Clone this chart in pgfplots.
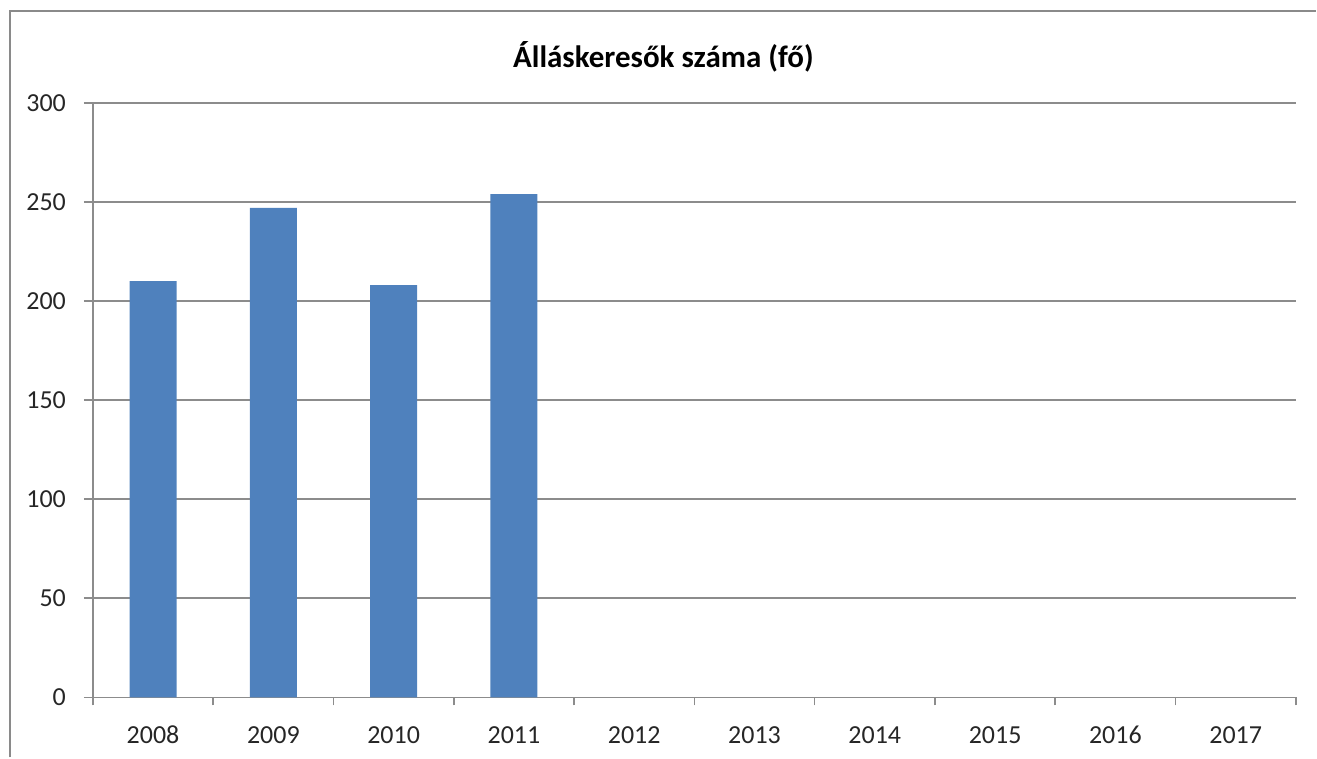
\documentclass[border=0pt]{standalone}
\usepackage{fontspec}
\setmainfont{Carlito}
\usepackage{pgfplots}
\pgfplotsset{compat=1.18}
\definecolor{barblue}{HTML}{4F81BD}
\definecolor{gridgray}{HTML}{8C8C8C}
\definecolor{framegray}{HTML}{8A8A8A}
\begin{document}
\begin{tikzpicture}
\begin{axis}[
  scale only axis,
  width=602pt, height=297.5pt,
  xmin=-0.5, xmax=9.5,
  ymin=0, ymax=300,
  ytick={0,50,...,300},
  xtick={0,...,9},
  xticklabels={2008,2009,2010,2011,2012,2013,2014,2015,2016,2017},
  minor xtick={-0.5,0.5,...,9.5},
  major x tick style={draw=none},
  minor x tick style={gridgray, line width=0.8pt},
  y tick style={gridgray, line width=0.8pt},
  tick align=outside,
  major tick length=4.5pt,
  minor tick length=4pt,
  ymajorgrids,
  grid style={gridgray, line width=0.8pt},
  axis x line*=bottom,
  axis y line*=left,
  axis line style={gridgray, line width=0.8pt, -},
  tick label style={font=\fontsize{13}{14}\selectfont, text=black!85},
  /pgf/number format/assume math mode=true,
  xticklabel style={yshift=-6pt, text height=9pt, text depth=0pt},
  yticklabel style={xshift=-5.5pt},
  ybar, bar width=23.5pt,
  clip=false,
]
\addplot[fill=barblue, draw=none] coordinates {(0,210) (1,247) (2,208) (3,254)};
\end{axis}
\path ([shift={(-46.5pt,-30pt)}]current axis.south west) rectangle ([shift={(612pt,349pt)}]current axis.south west);
\draw[framegray, line width=1.2pt] ([shift={(-41.5pt,-30pt)}]current axis.south west) -- ([shift={(-41.5pt,343.5pt)}]current axis.south west) -- ([shift={(612pt,343.5pt)}]current axis.south west);
\node[font=\bfseries\fontsize{15.5}{18}\selectfont, text=black] at ([shift={(285.5pt,320.5pt)}]current axis.south west) {Álláskeresők száma (fő)};
\end{tikzpicture}
\end{document}
